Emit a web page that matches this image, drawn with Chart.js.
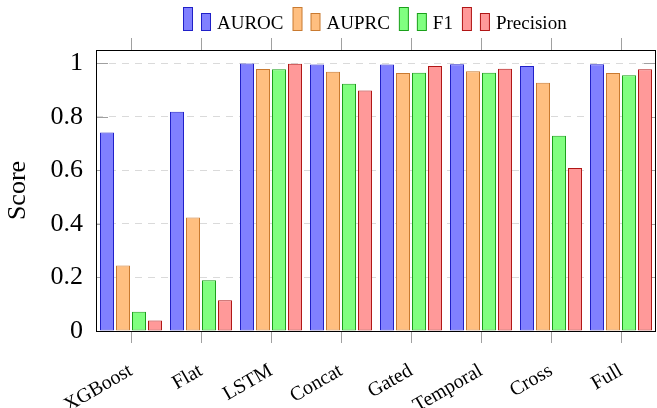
<!DOCTYPE html>
<html>
  <head>
    <title>Scores</title>
    <script src="https://cdn.jsdelivr.net/npm/chart.js@4.4.1/dist/chart.umd.min.js"></script>
    <style>
      html, body { margin: 0; padding: 0; background: #fff; }
      #container { width: 657px; height: 408px; }
    </style>
  </head>
  <body>
    <div id="container">
      <canvas id="canvas"></canvas>
    </div>
    <script>
      const models = ['XGBoost', 'Flat', 'LSTM', 'Concat', 'Gated', 'Temporal', 'Cross', 'Full'];
      const auroc = [0.742, 0.819, 1.0, 0.996, 0.996, 0.997, 0.990, 0.997];
      const auprc = [0.245, 0.424, 0.979, 0.969, 0.964, 0.971, 0.928, 0.964];
      const f1 = [0.072, 0.190, 0.978, 0.924, 0.965, 0.965, 0.730, 0.956];
      const precision = [0.039, 0.115, 0.999, 0.899, 0.990, 0.980, 0.609, 0.978];
      const yTicks = [0, 0.2, 0.4, 0.6, 0.8, 1];

      const serif = "'Liberation Serif', 'DejaVu Serif', serif";

      // frame, tick marks and the pgfplots-like legend
      const axisDecor = {
        id: 'axisDecor',
        beforeDatasetsDraw(chart) {
          const { ctx, chartArea: a, scales } = chart;
          ctx.save();
          ctx.strokeStyle = '#a0a0a0';
          ctx.lineWidth = 1;
          ctx.beginPath();
          yTicks.forEach(v => {
            const y = Math.round(scales.y.getPixelForValue(v)) + 0.5;
            ctx.moveTo(a.left, y); ctx.lineTo(a.left + 12, y);
            ctx.moveTo(a.right - 12, y); ctx.lineTo(a.right, y);
          });
          ctx.stroke();
          ctx.restore();
        },
        afterDatasetsDraw(chart) {
          const { ctx, chartArea: a, scales } = chart;
          ctx.save();
          ctx.strokeStyle = '#a0a0a0';
          ctx.lineWidth = 1;
          ctx.beginPath();
          models.forEach((m, i) => {
            const x = Math.round(scales.x.getPixelForValue(i)) + 0.5;
            ctx.moveTo(x, a.bottom); ctx.lineTo(x, a.bottom + 12);
            ctx.moveTo(x, a.top - 12); ctx.lineTo(x, a.top);
          });
          ctx.stroke();
          ctx.strokeStyle = '#000';
          ctx.strokeRect(Math.round(a.left) + 0.5, Math.round(a.top) + 0.5,
            Math.round(a.right - a.left) - 1, Math.round(a.bottom - a.top));
          ctx.restore();
        },
        afterDraw(chart) {
          const ctx = chart.ctx;
          ctx.save();
          ctx.font = '19px ' + serif;
          ctx.textBaseline = 'alphabetic';
          ctx.fillStyle = '#000';
          let x = 183;
          chart.data.datasets.forEach(ds => {
            ctx.fillStyle = ds.backgroundColor;
            ctx.strokeStyle = ds.borderColor;
            ctx.lineWidth = 1;
            ctx.fillRect(x + 0.5, 7.5, 9, 23);
            ctx.strokeRect(x + 0.5, 7.5, 9, 23);
            ctx.fillRect(x + 18.5, 13.5, 9, 17);
            ctx.strokeRect(x + 18.5, 13.5, 9, 17);
            ctx.fillStyle = '#000';
            ctx.fillText(ds.label, x + 34, 28.5);
            x += 34 + ctx.measureText(ds.label).width + 9;
          });
          ctx.restore();
        }
      };

      const bar = (label, data, fill, line) => ({
        label, data,
        backgroundColor: fill,
        borderColor: line,
        borderWidth: 1,
        borderSkipped: false,
        categoryPercentage: 0.914,
        barPercentage: 0.875
      });

      new Chart(document.getElementById('canvas'), {
        type: 'bar',
        data: {
          labels: models,
          datasets: [
            bar('AUROC', auroc, '#8080ff', '#2020c8'),
            bar('AUPRC', auprc, '#ffbf80', '#c97a30'),
            bar('F1', f1, '#80ff80', '#1aa01a'),
            bar('Precision', precision, '#ff9999', '#b01515')
          ]
        },
        options: {
          responsive: true,
          maintainAspectRatio: false,
          animation: false,
          layout: { padding: { top: 50, right: 1, left: 0, bottom: 0 } },
          plugins: {
            legend: { display: false },
            tooltip: { enabled: false }
          },
          scales: {
            x: {
              grid: { display: false },
              border: { display: false },
              ticks: {
                autoSkip: false,
                minRotation: 30,
                maxRotation: 30,
                padding: 20,
                color: '#000',
                font: { family: serif, size: 20 }
              },
              afterFit(scale) { scale.height = 77; }
            },
            y: {
              min: 0,
              max: 1.05,
              afterBuildTicks(scale) { scale.ticks = yTicks.map(v => ({ value: v })); },
              grid: { color: '#dadada', lineWidth: 1, drawTicks: false },
              border: { display: false, dash: [7, 6] },
              ticks: {
                padding: 13,
                color: '#000',
                font: { family: serif, size: 26 },
                callback: v => String(v)
              },
              title: {
                display: true,
                text: 'Score',
                color: '#000',
                padding: { top: 3, bottom: 0 },
                font: { family: serif, size: 26, lineHeight: 1.2 }
              },
              afterFit(scale) { scale.width = 96; }
            }
          }
        },
        plugins: [axisDecor]
      });
    </script>
  </body>
</html>
